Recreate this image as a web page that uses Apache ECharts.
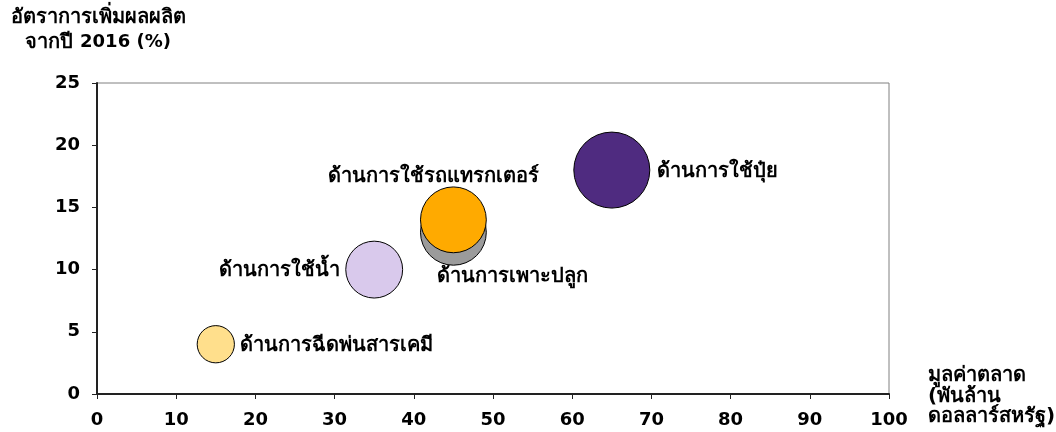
<!DOCTYPE html>
<html><head><meta charset="utf-8">
<script src="https://cdn.jsdelivr.net/npm/echarts@6/dist/echarts.min.js"></script>
<style>html,body{margin:0;padding:0;background:#fff}#c{width:1056px;height:432px}</style>
</head><body><div id="c"></div>
<script>
const names = ['ด้านการฉีดพ่นสารเคมี','ด้านการใช้น้ำ','ด้านการเพาะปลูก','ด้านการใช้รถแทรกเตอร์','ด้านการใช้ปุ๋ย'];
const marketValue = [15, 35, 45, 45, 65];
const growthRate = [4, 10, 13, 14, 18];
const bubbleValue = [2.4, 5.6, 7.5, 7.5, 10];
const xTicks = [0,10,20,30,40,50,60,70,80,90,100];
const yTicks = [0,5,10,15,20,25];
const colors = ['#FFDF8C','#D9C9EC','#9B9B9B','#FFAA00','#4F2B80'];
const labelPos = [
  {position:'right', offset:[0,2]},
  {position:'left', offset:[0,1]},
  {position:'inside', offset:[59,45]},
  {position:'inside', offset:[-20,-43]},
  {position:'right', offset:[2,2]}
];
const FONT = 'Verdana, "DejaVu Sans", "Noto Sans", sans-serif';
const chart = echarts.init(document.getElementById('c'));
chart.setOption({
  animation:false,
  grid:{left:97,right:167,top:83,bottom:38,show:true,borderColor:'#808080',borderWidth:1,backgroundColor:'#fff'},
  xAxis:{type:'value',min:0,max:100,interval:10,
    axisLine:{onZero:false,lineStyle:{color:'#222',width:2}},
    axisTick:{show:true,length:5,lineStyle:{color:'#222',width:1}},
    splitLine:{show:false},
    axisLabel:{color:'#000',fontWeight:'bold',fontSize:18,fontFamily:FONT,margin:17,
      formatter:v=>xTicks.includes(v)?String(v):''}},
  yAxis:{type:'value',min:0,max:25,interval:5,
    axisLine:{onZero:false,lineStyle:{color:'#222',width:2}},
    axisTick:{show:true,length:5,lineStyle:{color:'#222',width:1}},
    splitLine:{show:false},
    axisLabel:{color:'#000',fontWeight:'bold',fontSize:18,fontFamily:FONT,margin:17,
      formatter:v=>yTicks.includes(v)?String(v):''}},
  graphic:[
    {type:'text',x:98,y:5,style:{
      rich:{t:{font:'bold 20px '+FONT,fill:'#000',lineHeight:25},
            d:{font:'bold 18px '+FONT,fill:'#000',lineHeight:25}},
      text:'{t|อัตราการเพิ่มผลผลิต}\n{t|จากปี }{d|2016 (%)}',
      align:'center',textAlign:'center'}},
    {type:'text',x:928,y:366,style:{text:'มูลค่าตลาด\n(พันล้าน\nดอลลาร์สหรัฐ)',fill:'#000',
      font:'bold 20px '+FONT,lineHeight:20.5}}
  ],
  series:[{
    type:'scatter',
    data:names.map((n,i)=>({
      name:n,
      value:[marketValue[i],growthRate[i],bubbleValue[i]],
      itemStyle:{color:colors[i]},
      label:{show:true,formatter:n,position:labelPos[i].position,offset:labelPos[i].offset}
    })),
    symbolSize:v=>76*Math.sqrt(v[2]/10),
    itemStyle:{borderColor:'#000',borderWidth:1,opacity:1},
    label:{color:'#000',fontWeight:'bold',fontSize:20,fontFamily:FONT,distance:5},
    emphasis:{disabled:true}
  }]
});
</script></body></html>
